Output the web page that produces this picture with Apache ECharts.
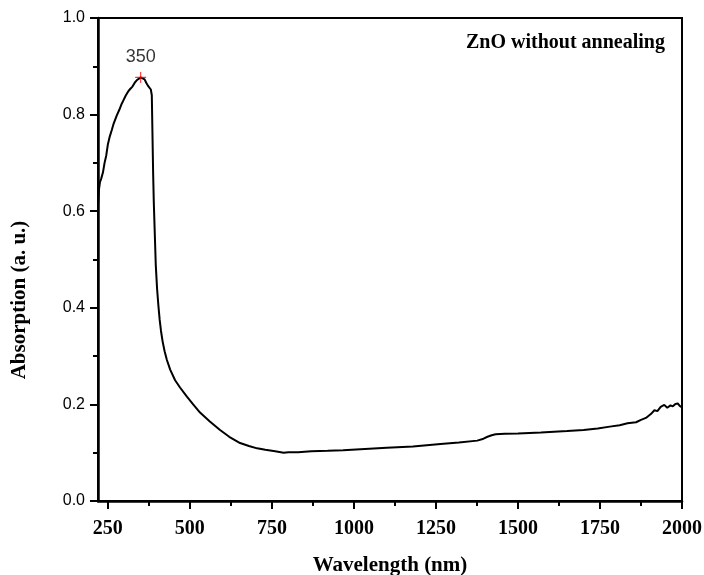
<!DOCTYPE html>
<html>
<head>
<meta charset="utf-8">
<script src="https://cdn.jsdelivr.net/npm/echarts@6/dist/echarts.min.js"></script>
<style>
  html, body { margin: 0; padding: 0; background: #fff; }
  #chart { width: 704px; height: 575px; }
</style>
</head>
<body>
<div id="chart"></div>
<script>
// ZnO 未退火吸收光谱
const chart = echarts.init(document.getElementById('chart'));

const wavelengths = [
  220, 223, 226, 230, 235, 240, 245, 250, 256, 262, 268, 277, 285, 292, 297,
  305, 312, 318, 325, 332, 338, 344, 350, 356, 362, 367, 372, 377, 381, 384,
  386, 388, 390, 393, 396, 400, 404, 408, 412, 417, 423, 430, 440, 455, 470,
  491, 510, 531, 560, 592, 620, 653, 680, 705, 730, 760, 786, 800, 830, 870,
  920, 967, 1020, 1100, 1180, 1264, 1320, 1376, 1395, 1407, 1420, 1432, 1460,
  1500, 1570, 1650, 1700, 1743, 1780, 1810, 1834, 1860, 1875, 1890, 1905,
  1916, 1925, 1935, 1946, 1955, 1965, 1972, 1980, 1987, 1993, 2000
];
const absorption = [
  0.612, 0.645, 0.66, 0.668, 0.68, 0.70, 0.715, 0.738, 0.755, 0.768, 0.782, 0.798, 0.81, 0.822, 0.829,
  0.840, 0.848, 0.853, 0.858, 0.866, 0.871, 0.874, 0.877, 0.876, 0.873, 0.866, 0.860, 0.857, 0.852, 0.84,
  0.76, 0.68, 0.62, 0.555, 0.49, 0.44, 0.405, 0.375, 0.352, 0.33, 0.31, 0.292, 0.272, 0.25, 0.235,
  0.216, 0.2, 0.183, 0.165, 0.147, 0.133, 0.12, 0.114, 0.109, 0.106, 0.103, 0.100, 0.101, 0.101, 0.103,
  0.104, 0.105, 0.107, 0.110, 0.113, 0.118, 0.121, 0.125, 0.129, 0.133, 0.136, 0.138, 0.139,
  0.140, 0.142, 0.145, 0.147, 0.150, 0.154, 0.157, 0.161, 0.163, 0.168, 0.172, 0.180,
  0.188, 0.186, 0.195, 0.199, 0.193, 0.198, 0.196, 0.201, 0.202, 0.197, 0.194
];
const xMajorTicks = [250, 500, 750, 1000, 1250, 1500, 1750, 2000];
const xMinorTicks = [375, 625, 875, 1125, 1375, 1625, 1875];
const peak = [350, 0.877];
const peakLabel = '350';
const sampleName = 'ZnO without annealing';
const yTitle = 'Absorption (a. u.)';

const serif = '"Liberation Serif", "Times New Roman", serif';
const sans = '"Liberation Sans", Arial, sans-serif';

const lineData = wavelengths.map((w, i) => [w, absorption[i]]);

const option = {
  animation: false,
  backgroundColor: '#fff',
  grid: {
    left: 98,
    top: 18,
    right: 22,
    bottom: 74,
    outerBoundsMode: 'none',
    containLabel: false,
    show: true,
    borderColor: '#000',
    borderWidth: 2
  },
  graphic: [
    {
      type: 'text',
      left: 466,
      top: 33,
      style: {
        text: sampleName,
        font: 'bold 20px ' + serif,
        fill: '#000'
      }
    },
    {
      // y轴标题，略低于轴中点
      type: 'text',
      x: 20,
      y: 300,
      rotation: Math.PI / 2,
      style: {
        text: yTitle,
        font: 'bold 21px ' + serif,
        fill: '#000',
        textAlign: 'center',
        textVerticalAlign: 'middle'
      }
    }
  ],
  xAxis: [
    {
      type: 'value',
      min: 220,
      max: 2000,
      name: 'Wavelength (nm)',
      nameLocation: 'middle',
      nameGap: 54,
      nameTextStyle: {
        fontFamily: serif,
        fontWeight: 'bold',
        fontSize: 21,
        color: '#000'
      },
      axisLine: { lineStyle: { color: '#000', width: 2.5 } },
      axisTick: {
        length: 8,
        lineStyle: { color: '#000', width: 2 },
        customValues: xMajorTicks
      },
      axisLabel: {
        customValues: xMajorTicks,
        margin: 18,
        fontFamily: serif,
        fontWeight: 'bold',
        fontSize: 20,
        color: '#000',
        formatter: v => String(v)
      },
      splitLine: { show: false }
    },
    {
      type: 'value',
      min: 220,
      max: 2000,
      position: 'bottom',
      axisLine: { show: false },
      axisTick: {
        length: 5,
        lineStyle: { color: '#000', width: 2 },
        customValues: xMinorTicks
      },
      axisLabel: { show: false },
      splitLine: { show: false }
    }
  ],
  yAxis: {
    type: 'value',
    min: 0,
    max: 1,
    interval: 0.2,
    axisLine: { show: true, lineStyle: { color: '#000', width: 2.5 } },
    axisTick: { show: true, length: 8, lineStyle: { color: '#000', width: 2 } },
    minorTick: { show: true, splitNumber: 2, length: 5, lineStyle: { color: '#000', width: 2 } },
    axisLabel: {
      margin: 13,
      fontFamily: sans,
      fontSize: 16,
      color: '#000',
      formatter: v => v.toFixed(1)
    },
    splitLine: { show: false }
  },
  series: [
    {
      type: 'line',
      data: lineData,
      showSymbol: false,
      lineStyle: { color: '#000', width: 2 },
      z: 2
    },
    {
      type: 'scatter',
      data: [peak],
      symbol: 'path://M4.5,0h1v4.5h4.5v1h-4.5v4.5h-1v-4.5h-4.5v-1h4.5z',
      symbolSize: 11,
      itemStyle: { color: '#ff0000' },
      label: {
        show: true,
        position: 'top',
        distance: 6,
        formatter: peakLabel,
        fontFamily: sans,
        fontSize: 18,
        color: '#000'
      },
      z: 3
    }
  ]
};
chart.setOption(option);
</script>
</body>
</html>
